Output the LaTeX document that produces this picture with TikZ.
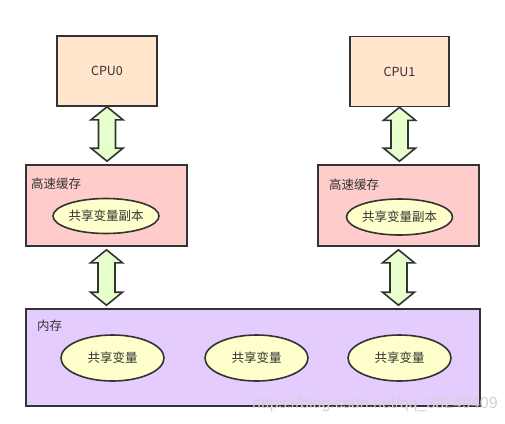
\documentclass[tikz,border=0pt]{standalone}
\usepackage{fontspec}
\setmainfont{Liberation Sans}
\newfontfamily\cjk{Noto Sans CJK SC}
\usetikzlibrary{calc,shapes.geometric}
\definecolor{strokec}{HTML}{333333}
\definecolor{cpufill}{HTML}{FFE6CC}
\definecolor{cachefill}{HTML}{FFCCCC}
\definecolor{memfill}{HTML}{E5CCFF}
\definecolor{varfill}{HTML}{FFFFCC}
\definecolor{arrfill}{HTML}{E6FFCC}
\tikzset{
  box/.style={draw=strokec, line width=1.6pt, rectangle, inner sep=0pt},
  cpubox/.style={box, fill=cpufill, minimum width=100pt, minimum height=70pt, font=\cjk\fontsize{12.5}{14}\selectfont, text=strokec},
  cachebox/.style={box, fill=cachefill, minimum width=161pt, minimum height=81pt},
  membox/.style={box, fill=memfill, minimum width=454pt, minimum height=97pt},
  var/.style={draw=strokec, line width=1.6pt, ellipse, fill=varfill, inner sep=0pt, font=\cjk\fontsize{12.5}{14}\selectfont, text=strokec},
  lbl/.style={anchor=west, inner sep=0pt, font=\cjk\fontsize{12.5}{14}\selectfont, text=strokec},
  arrowshape/.style={draw=strokec, line width=1.6pt, fill=arrfill, line join=miter}
}
\newcommand\dblarr[2]{%
  \path[arrowshape] let \p1=(#1), \p2=(#2) in
    (\x1,\y1) -- (\x1+16pt,\y1-13pt) -- (\x1+8.5pt,\y1-13pt) -- (\x1+8.5pt,\y2+13pt)
    -- (\x1+16pt,\y2+13pt) -- (\x1,\y2) -- (\x1-16pt,\y2+13pt) -- (\x1-8.5pt,\y2+13pt)
    -- (\x1-8.5pt,\y1-13pt) -- (\x1-16pt,\y1-13pt) -- cycle;}
\begin{document}
\begin{tikzpicture}[x=1pt,y=-1pt]
\useasboundingbox (0,0) rectangle (505,423);
\node[cpubox] (cpu0) at (107,71) {CPU0};
\node[cpubox, minimum width=99pt] (cpu1) at (399.5,71.5) {CPU1};
\node[cachebox] (cache0) at (106.5,205.5) {};
\node[cachebox] (cache1) at (398.5,205.5) {};
\node[lbl] (cl0) at (31,184) {高速缓存};
\node[lbl] (cl1) at (329,185) {高速缓存};
\node[var, minimum width=104pt, minimum height=35pt] (cv0) at (106,216) {共享变量副本};
\node[var, minimum width=105pt, minimum height=36pt] (cv1) at (399.5,217) {共享变量副本};
\node[membox] (mem) at (253,357.5) {};
\node[lbl] (ml) at (37,326) {内存};
\node[var, minimum width=103pt, minimum height=46pt] (mv1) at (112.5,358) {共享变量};
\node[var, minimum width=103pt, minimum height=46pt] (mv2) at (256.5,358) {共享变量};
\node[var, minimum width=103pt, minimum height=46pt] (mv3) at (399.5,358) {共享变量};
\coordinate (a1t) at (cpu0.south);
\coordinate (a1b) at ($(cpu0.south |- cache0.north)+(0,-3)$);
\coordinate (a2t) at (cpu1.south);
\coordinate (a2b) at ($(cpu1.south |- cache1.north)+(0,-3)$);
\coordinate (a3t) at ($(cache0.south)+(0,3)$);
\coordinate (a3b) at ($(cache0.south |- mem.north)+(0,-3)$);
\coordinate (a4t) at ($(cache1.south)+(0,3)$);
\coordinate (a4b) at ($(cache1.south |- mem.north)+(0,-3)$);
\dblarr{a1t}{a1b}
\dblarr{a2t}{a2b}
\dblarr{a3t}{a3b}
\dblarr{a4t}{a4b}
\node[anchor=west, inner sep=0pt, text=gray!35, font=\fontsize{16}{18}\selectfont] (wm) at (252,404) {https://blog.csdn.net/qq\_38249409};
\end{tikzpicture}
\end{document}
